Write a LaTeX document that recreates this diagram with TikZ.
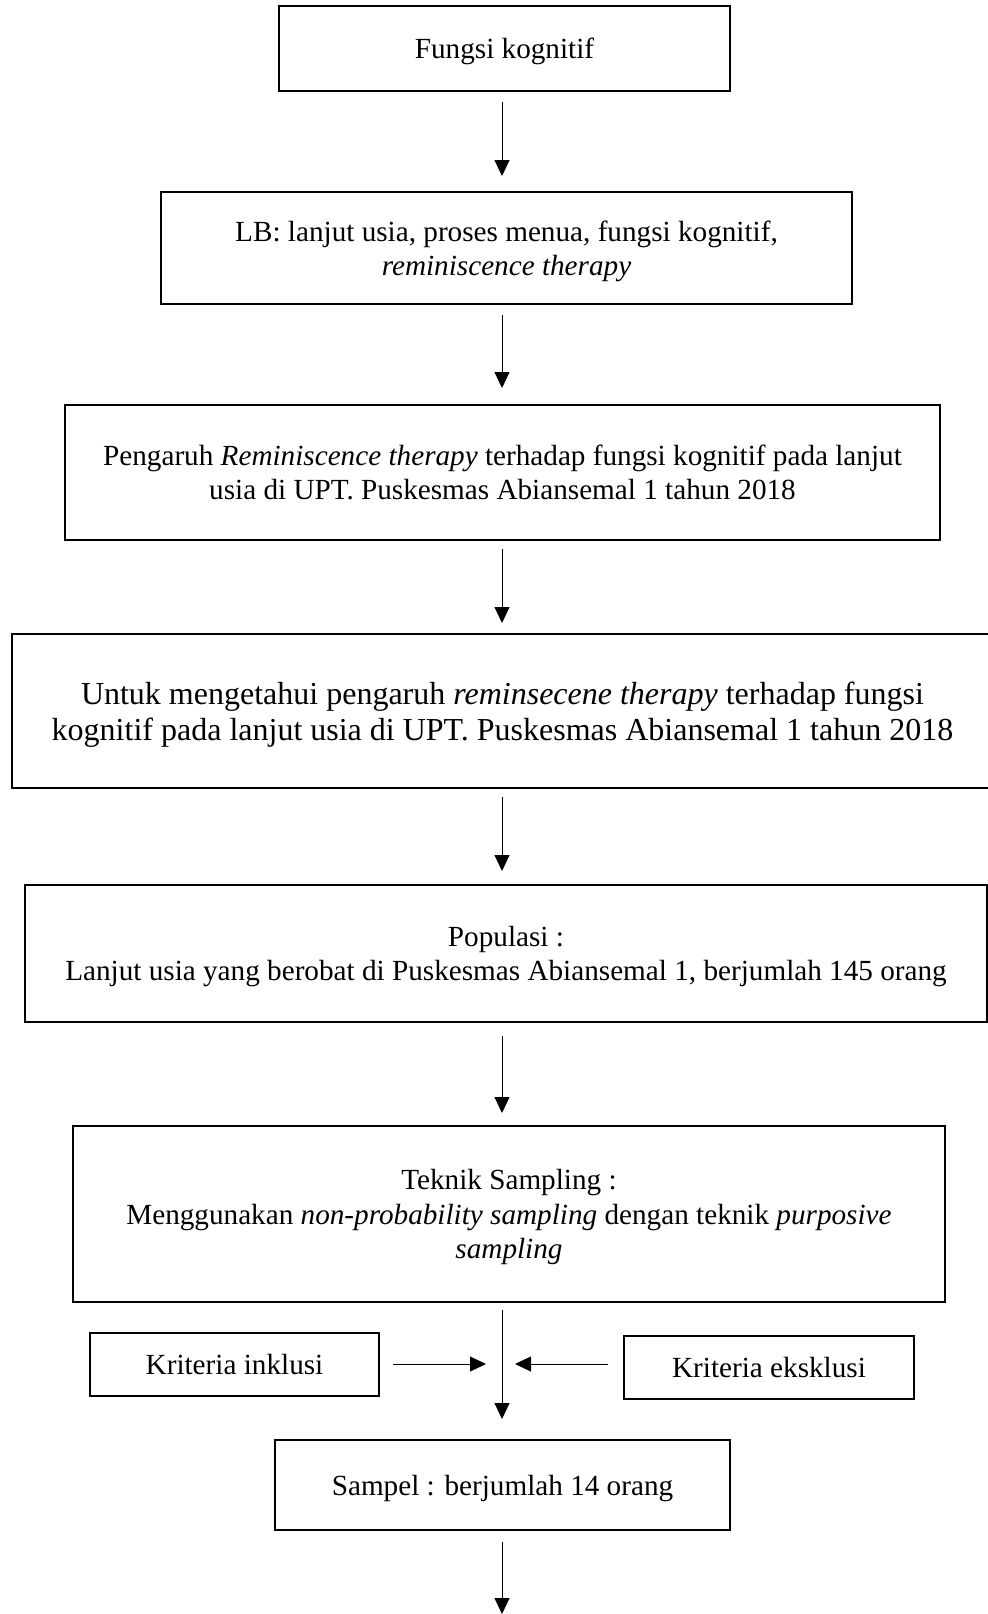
\documentclass[tikz,border=0pt]{standalone}
\usepackage{fontspec}
\setmainfont{Liberation Serif}
\usetikzlibrary{arrows.meta}

\begin{document}
\begin{tikzpicture}[x=0.5pt, y=-0.5pt,
		kotak/.style={draw, line width=1pt, align=center, inner sep=0pt, text depth=-1pt, font=\fontsize{14.6}{17.2}\selectfont},
		panah/.style={-{Triangle[length=8pt, width=7.5pt]}, line width=0.5pt}]
					\useasboundingbox (0, 0) rectangle (988, 1614);

					\coordinate (sp) at (502, 0);
					\coordinate (join) at (502, 1364);
					\coordinate (akhir) at (502, 1614);

					\node [kotak, minimum width=225.5pt, minimum height=42.5pt] (fungsi) at (504.5, 48.5) {Fungsi kognitif};
					\node [kotak, minimum width=345.5pt, minimum height=56pt] (lb) at (506.5, 248) {LB: lanjut usia, proses menua, fungsi kognitif,\\ \textit{reminiscence therapy}};
					\node [kotak, minimum width=437.5pt, minimum height=67.5pt] (pengaruh) at (502.5, 472.5) {Pengaruh \textit{Reminiscence therapy} terhadap fungsi kognitif pada lanjut\\ usia di UPT. Puskesmas Abiansemal 1 tahun 2018};
					\node [kotak, minimum width=491pt, minimum height=77pt, font=\fontsize{16}{18}\selectfont] (tujuan) at (502.5, 711) {Untuk mengetahui pengaruh \textit{reminsecene therapy} terhadap fungsi\\ kognitif pada lanjut usia di UPT. Puskesmas Abiansemal 1 tahun 2018};
					\node [kotak, minimum width=481pt, minimum height=68.5pt] (populasi) at (506, 953.5) {Populasi :\\ Lanjut usia yang berobat di Puskesmas Abiansemal 1, berjumlah 145 orang};
					\node [kotak, minimum width=436pt, minimum height=88pt] (teknik) at (509, 1214) {Teknik Sampling :\\ Menggunakan \textit{non-probability sampling} dengan teknik \textit{purposive}\\ \textit{sampling}};
					\node [kotak, minimum width=144.5pt, minimum height=31.5pt] (inklusi) at (234.5, 1364.5) {Kriteria inklusi};
					\node [kotak, minimum width=145pt, minimum height=31.5pt] (eksklusi) at (769, 1367.5) {Kriteria eksklusi};
					\node [kotak, minimum width=227.5pt, minimum height=45pt] (sampel) at (502.5, 1485) {Sampel : berjumlah 14 orang};

					\draw [panah, shorten <=5pt, shorten >=7.5pt] (fungsi.south -| sp) -- (lb.north -| sp);
					\draw [panah, shorten <=5pt, shorten >=8pt] (lb.south -| sp) -- (pengaruh.north -| sp);
					\draw [panah, shorten <=4pt, shorten >=5pt] (pengaruh.south -| sp) -- (tujuan.north -| sp);
					\draw [panah, shorten <=4pt, shorten >=6.5pt] (tujuan.south -| sp) -- (populasi.north -| sp);
					\draw [panah, shorten <=6.5pt, shorten >=6pt] (populasi.south -| sp) -- (teknik.north -| sp);
					\draw [panah, shorten <=3.5pt, shorten >=10pt] (teknik.south -| sp) -- (sampel.north -| sp);

					\draw [panah, shorten <=6.5pt, shorten >=8pt] (inklusi.east |- join) -- (join);
					\draw [panah, shorten <=7.5pt, shorten >=6.5pt] (eksklusi.west |- join) -- (join);

					\draw [panah, shorten <=5.5pt] (sampel.south -| sp) -- (akhir);
				\end{tikzpicture}
\end{document}
